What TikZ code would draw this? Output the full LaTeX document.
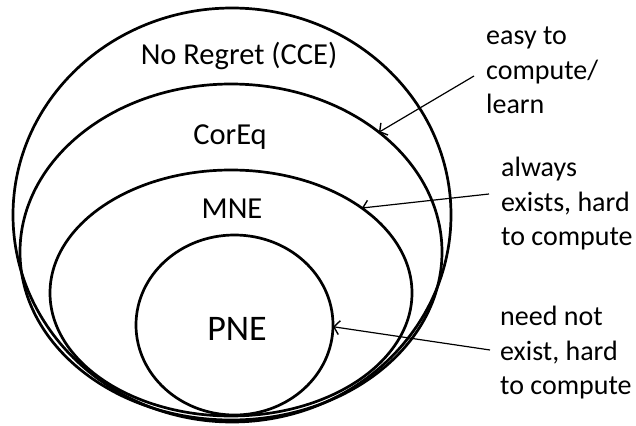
\documentclass[tikz,border=0pt]{standalone}
\usepackage{fontspec}
\setmainfont{Carlito}
\usetikzlibrary{shapes.geometric,arrows.meta}
\tikzset{
  setbox/.style={ellipse, draw, line width=2.7pt, inner sep=0pt, outer sep=0pt},
  setlabel/.style={font=\fontsize{30.5}{36}\selectfont, anchor=base, inner sep=0pt},
  note/.style={font=\fontsize{28}{34.5}\selectfont, align=left, anchor=north west, inner sep=0pt},
  pointer/.style={line width=1.2pt, -{Straight Barb[length=5.5pt,width=14pt,line width=1.4pt]}}
}
\begin{document}
\begin{tikzpicture}[x=1pt,y=-1pt]
\useasboundingbox (0,0) rectangle (636,425);
\node[setbox, minimum width=438pt, minimum height=414pt] (outer) at (232,215) {};
\node[setbox, minimum width=422pt, minimum height=336pt] (coreq) at (231,252) {};
\node[setbox, minimum width=362pt, minimum height=246pt] (mne) at (231,293) {};
\node[setbox, minimum width=197pt, minimum height=180pt] (pne) at (234.5,325) {};

\node[setlabel] (tcce) at (239,65) {No Regret (CCE)};
\node[setlabel] (tcoreq) at (230,144) {CorEq};
\node[setlabel] (tmne) at (232,218) {MNE};
\node[setlabel, font=\fontsize{36}{40}\selectfont] (tpne) at (237,340) {PNE};

\node[note] (n1) at (486,27) {easy to\\compute/\\learn};
\node[note] (n2) at (501,157) {always\\exists, hard\\to compute};
\node[note] (n3) at (500,306) {need not\\exist, hard\\to compute};

\coordinate (s1) at (474,76);
\coordinate (s2) at (489,194);
\coordinate (s3) at (490,350);
\draw[pointer] (s1) -- (coreq.39);
\draw[pointer] (s2) -- (mne.33);
\draw[pointer] (s3) -- (pne.-1);
\end{tikzpicture}
\end{document}
